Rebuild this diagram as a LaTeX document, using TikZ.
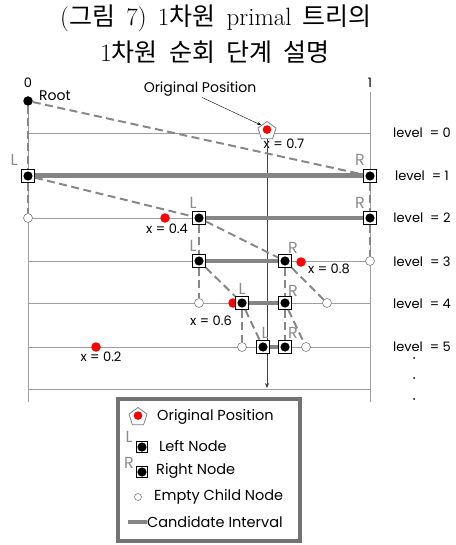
\documentclass[tikz,border=0pt]{standalone}
\usepackage{fontspec}
\newfontfamily\krfont{Noto Sans CJK KR}
\newfontfamily\dfont{Poppins}
\usetikzlibrary{shapes.geometric,arrows.meta}
\newcommand\kr[1]{{\krfont #1}}
\newcommand\ws{\hspace{0.45em}}
\definecolor{gridc}{gray}{0.62}
\definecolor{edgec}{gray}{0.53}
\definecolor{candc}{gray}{0.52}
\definecolor{labc}{gray}{0.55}
\begin{document}
\begin{tikzpicture}[x=1pt,y=-1pt,
  font=\dfont\fontsize{13}{15}\selectfont,
  tn/.style={rectangle, draw=black, line width=0.7pt, fill=white, minimum size=13pt, inner sep=0pt,
    path picture={\fill[black] (path picture bounding box.center) circle (4.6pt);}},
  en/.style={circle, draw=gray, line width=0.6pt, fill=white, minimum size=9pt, inner sep=0pt},
  rd/.style={circle, fill=red, minimum size=9.5pt, inner sep=0pt},
  orig/.style={regular polygon, regular polygon sides=5, draw=gray, line width=0.8pt, fill=white,
    minimum size=19pt, inner sep=0pt,
    path picture={\fill[red] ([yshift=0.5pt]path picture bounding box.center) circle (4.3pt);}},
  tedge/.style={draw=edgec, line width=2pt, dash pattern=on 8pt off 4.5pt},
  cand/.style={draw=candc, line width=4.5pt},
  gridl/.style={draw=gridc, line width=0.8pt},
  lr/.style={text=labc, font=\dfont\fontsize{16}{16}\selectfont, inner sep=0pt},
  txt/.style={inner sep=0pt},
  lgt/.style={inner sep=0pt, anchor=west, font=\dfont\fontsize{14.5}{16}\selectfont},
  ttl/.style={inner sep=0pt, font=\rmfamily\fontsize{25}{28}\selectfont}]
\useasboundingbox (0,0) rectangle (455,545);

% title
\node[ttl] (t1) at (216,18) {(\kr{그림}\ws7)\ws1\kr{차원}\ws primal\ws\kr{트리의}};
\node[ttl] (t2) at (215,52) {1\kr{차원}\ws\kr{순회}\ws\kr{단계}\ws\kr{설명}};

% axis labels
\node[txt] (z0) at (28,83) {0};
\node[txt] (z1) at (370,83) {1};

% grid
\draw[gridl] (28,101) -- (28,402);
\draw[gridl] (370,92) -- (370,402);
\foreach \y in {133,176,218,261,303,347,389} \draw[gridl] (28,\y) -- (370,\y);

% level labels
\node[txt] (lv0) at (422,133) {level \ = 0};
\node[txt] (lv1) at (422,176) {level \ = 1};
\node[txt] (lv2) at (422,218) {level \ = 2};
\node[txt] (lv3) at (422,262) {level \ = 3};
\node[txt] (lv4) at (422,304) {level \ = 4};
\node[txt] (lv5) at (422,347) {level \ = 5};
\foreach \y in {358,378,399} \fill (414,\y) circle (1pt);

% red query points
\node[rd] (q4) at (165,218) {};
\node[rd] (q8) at (301,262) {};
\node[rd] (q6) at (233,303) {};
\node[rd] (q2) at (96,347) {};
\node[txt] at (167,229) {x = 0.4};
\node[txt] at (329,269) {x = 0.8};
\node[txt] at (211,321) {x = 0.6};
\node[txt] at (101,357) {x = 0.2};

% original position
\node[orig] (O) at (267,131) {};
\node[txt] (xo) at (284,144) {x = 0.7};
\node[txt, font=\dfont\fontsize{14}{16}\selectfont] (oplabel) at (200,89) {Original Position};
\draw[line width=0.4pt, -{Stealth[length=4pt,width=3pt]}] (oplabel.south) ++(2,1) -- (O.north west);
\draw[line width=0.6pt, draw=black!75, -{Stealth[length=5pt,width=4pt]}] (O.south) -- (267,388);

% tree nodes
\node[circle, fill=black, minimum size=9.5pt, inner sep=0pt] (root) at (28,101) {};
\node[txt, font=\dfont\fontsize{14}{16}\selectfont] at (55,96) {Root};
\node[tn] (L1) at (28,176) {};
\node[tn] (R1) at (370,176) {};
\node[en] (E2) at (28,218) {};
\node[tn] (L2) at (199,218) {};
\node[tn] (R2) at (370,218) {};
\node[tn] (L3) at (199,261) {};
\node[tn] (R3) at (285,261) {};
\node[en] (E3) at (370,261) {};
\node[en] (E4a) at (199,303) {};
\node[tn] (L4) at (242,303) {};
\node[tn] (R4) at (285,303) {};
\node[en] (E4b) at (327,303) {};
\node[en] (E5a) at (242,347) {};
\node[tn] (L5) at (263,347) {};
\node[tn] (R5) at (285,347) {};
\node[en] (E5b) at (306,347) {};

% L / R labels
\node[lr] at (14,160) {L};
\node[lr] at (360,160) {R};
\node[lr] at (193,203) {L};
\node[lr] at (360,203) {R};
\node[lr] at (193,246) {L};
\node[lr] at (293,248) {R};
\node[lr] at (242,289) {L};
\node[lr] at (293,291) {R};
\node[lr] at (265,333) {L};
\node[lr] at (293,333) {R};

% candidate intervals
\draw[cand, line width=5pt] (L1) -- (R1);
\draw[cand] (L2) -- (R2);
\draw[cand] (L3) -- (R3);
\draw[cand] (L4) -- (R4);
\draw[cand] (L5) -- (R5);

% tree edges
\draw[tedge] (root) -- (L1);
\draw[tedge] (root) -- (R1);
\draw[tedge] (L1) -- (E2);
\draw[tedge] (L1) -- (L2);
\draw[tedge] (R1) -- (R2);
\draw[tedge] (L2) -- (L3);
\draw[tedge] (L2) -- (R3);
\draw[tedge] (R2) -- (E3);
\draw[tedge] (L3) -- (E4a);
\draw[tedge] (L3) -- (L4);
\draw[tedge] (R3) -- (R4);
\draw[tedge] (R3) -- (E4b);
\draw[tedge] (L4) -- (E5a);
\draw[tedge] (L4) -- (L5);
\draw[tedge] (R4) -- (R5);
\draw[tedge] (R4) -- (E5b);

% legend
\draw[line width=4pt, draw=black!55] (118,399) rectangle (300,541);
\node[orig] (lgO) at (138,417) {};
\node[lgt] at (157,417) {Original Position};
\node[lr] at (129,437) {L};
\node[tn, minimum size=11pt] (lgL) at (142,447) {};
\node[lgt] at (159,446) {Left Node};
\node[lr] at (129,463) {R};
\node[tn, minimum size=11pt] (lgR) at (142,472) {};
\node[lgt] at (156,471) {Right Node};
\node[en, minimum size=7pt] (lgE) at (138,497) {};
\node[lgt] at (154,497) {Empty Child Node};
\coordinate (lgA) at (128,522);
\coordinate (lgB) at (147,522);
\draw[cand] (lgA) -- (lgB);
\node[lgt] at (147,522) {Candidate Interval};
\end{tikzpicture}
\end{document}
